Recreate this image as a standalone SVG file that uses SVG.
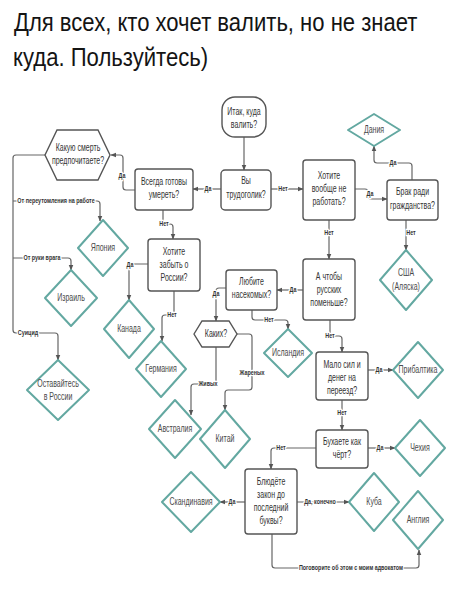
<svg xmlns="http://www.w3.org/2000/svg" width="452" height="600" viewBox="0 0 452 600">
<defs>
<style>
.title{font-family:"Liberation Sans",Arial,sans-serif;font-size:26.5px;fill:#141414}
.box{fill:#fff;stroke:#555;stroke-width:1.4}
.dia{fill:#fff;stroke:#63a8a1;stroke-width:2;stroke-linejoin:round}
.t{font-family:"Liberation Sans",Arial,sans-serif;font-size:10px;fill:#333;text-anchor:middle}
.td{font-family:"Liberation Sans",Arial,sans-serif;font-size:10px;fill:#4a4a4a;text-anchor:middle}
.c{fill:none;stroke:#666;stroke-width:1.2;stroke-linejoin:round}
.ca{marker-end:url(#ah)}
.l{font-family:"Liberation Sans",Arial,sans-serif;font-size:6.5px;font-weight:bold;fill:#333;text-anchor:middle;stroke:#fff;stroke-width:2.5;paint-order:stroke;dominant-baseline:central}
</style>
<marker id="ah" viewBox="0 0 10 10" refX="9" refY="5" markerWidth="6" markerHeight="6" markerUnits="userSpaceOnUse" orient="auto">
<path d="M0,1 L10,5 L0,9 z" fill="#555"/>
</marker>
</defs>
<rect width="452" height="600" fill="#fff"/>
<text class="title" transform="translate(14 31) scale(0.82 1)" x="0" y="0" textLength="492" lengthAdjust="spacingAndGlyphs">Для всех, кто хочет валить, но не знает</text>
<text class="title" transform="translate(13 66) scale(0.82 1)" x="0" y="0" textLength="238" lengthAdjust="spacingAndGlyphs">куда. Пользуйтесь)</text>

<g id="connectors">
<path class="c ca" d="M244,137 V170"/>
<path class="c ca" d="M221,189 H193"/>
<path class="c ca" d="M135,190 H126 Q123,190 123,187 V158 Q123,155 120,155 H111"/>
<path class="c ca" d="M45,155 H16 Q13,155 13,158 V330 Q13,333 16,333 H55 Q58,333 58,336 V360"/>
<path class="c ca" d="M13,201 H97 Q100,201 100,204 V221"/>
<path class="c ca" d="M13,258 H68 Q71,258 71,261 V270"/>
<path class="c ca" d="M163,210 V221 Q163,224 166,224 H170 Q173,224 173,227 V239"/>
<path class="c ca" d="M148,264 H132 Q129,264 129,267 V300"/>
<path class="c ca" d="M174,291 V312 Q174,315 171,315 H165 Q162,315 162,318 V341"/>
<path class="c ca" d="M271,189 H303"/>
<path class="c ca" d="M355,189 H365 Q368,189 368,192 V196 Q368,199 371,199 H387"/>
<path class="c ca" d="M412,180 V166 Q412,163 409,163 H377 Q374,163 374,160 V146"/>
<path class="c ca" d="M406,220 V250"/>
<path class="c ca" d="M329,220 V259"/>
<path class="c ca" d="M303,290 H277"/>
<path class="c ca" d="M252,310 V317 Q252,320 255,320 H285 Q288,320 288,323 V329"/>
<path class="c ca" d="M226,288 H219 Q216,288 216,291 V321"/>
<path class="c ca" d="M216,347 V381 Q216,384 213,384 H194 Q191,384 191,387 V415"/>
<path class="c ca" d="M237,334 H249 Q252,334 252,337 V387 Q252,390 249,390 H228 Q225,390 225,393 V410"/>
<path class="c ca" d="M330,320 V333 Q330,336 333,336 H339 Q342,336 342,339 V352"/>
<path class="c ca" d="M368,370 H393"/>
<path class="c ca" d="M342,400 V430"/>
<path class="c ca" d="M368,448 H395"/>
<path class="c ca" d="M316,448 H274 Q271,448 271,451 V469"/>
<path class="c ca" d="M245,502 H220"/>
<path class="c ca" d="M297,502 H349"/>
<path class="c ca" d="M272,534 V565 Q272,568 275,568 H416 Q419,568 419,565 V550"/>
<text class="l" transform="translate(208 189) scale(0.83 1)">Да</text>
<text class="l" transform="translate(122 176) scale(0.83 1)">Да</text>
<text class="l" transform="translate(56 201) scale(0.83 1)">От переутомления на работе</text>
<text class="l" transform="translate(42 258) scale(0.83 1)">От руки врага</text>
<text class="l" transform="translate(28 333) scale(0.83 1)">Суицид</text>
<text class="l" transform="translate(164 224) scale(0.83 1)">Нет</text>
<text class="l" transform="translate(130 265) scale(0.83 1)">Да</text>
<text class="l" transform="translate(172 315) scale(0.83 1)">Нет</text>
<text class="l" transform="translate(283 189) scale(0.83 1)">Нет</text>
<text class="l" transform="translate(370 194) scale(0.83 1)">Да</text>
<text class="l" transform="translate(393 163) scale(0.83 1)">Да</text>
<text class="l" transform="translate(411 233) scale(0.83 1)">Нет</text>
<text class="l" transform="translate(329 233) scale(0.83 1)">Нет</text>
<text class="l" transform="translate(293 290) scale(0.83 1)">Да</text>
<text class="l" transform="translate(269 320) scale(0.83 1)">Нет</text>
<text class="l" transform="translate(216 294) scale(0.83 1)">Да</text>
<text class="l" transform="translate(208 384) scale(0.83 1)">Живых</text>
<text class="l" transform="translate(252 373) scale(0.83 1)">Жареных</text>
<text class="l" transform="translate(330 336) scale(0.83 1)">Нет</text>
<text class="l" transform="translate(379 370) scale(0.83 1)">Да</text>
<text class="l" transform="translate(342 413) scale(0.83 1)">Нет</text>
<text class="l" transform="translate(380 448) scale(0.83 1)">Да</text>
<text class="l" transform="translate(281 448) scale(0.83 1)">Нет</text>
<text class="l" transform="translate(232 502) scale(0.83 1)">Да</text>
<text class="l" transform="translate(320 502) scale(0.83 1)">Да, конечно</text>
<text class="l" transform="translate(351 568) scale(0.83 1)">Поговорите об этом с моим адвокатом</text>
</g>

<g id="start">
<rect class="box" x="222" y="97" width="44" height="40" rx="13"/>
<text class="t" transform="translate(244 0) scale(0.7 1)"><tspan x="0" y="115.5">Итак, куда</tspan><tspan x="0" y="128.5">валить?</tspan></text>
</g>
<g id="workaholic">
<rect class="box" x="221" y="170" width="50" height="40" rx="4"/>
<text class="t" transform="translate(246 0) scale(0.7 1)"><tspan x="0" y="184">Вы</tspan><tspan x="0" y="198">трудоголик?</tspan></text>
</g>
<g id="ready">
<rect class="box" x="135" y="169" width="58" height="41" rx="3"/>
<text class="t" transform="translate(164 0) scale(0.7 1)"><tspan x="0" y="185.5">Всегда готовы</tspan><tspan x="0" y="198.5">умереть?</tspan></text>
</g>
<g id="death">
<polygon class="box" points="45,155 57,130 98,130 110,155 98,180 57,180"/>
<text class="t" transform="translate(78 0) scale(0.7 1)"><tspan x="0" y="151.5">Какую смерть</tspan><tspan x="0" y="164">предпочитаете?</tspan></text>
</g>
<g id="japan">
<polygon class="dia" points="103,220 128,248 103,276 78,248"/>
<text class="td" transform="translate(103 0) scale(0.7 1)" y="251.5">Япония</text>
</g>
<g id="israel">
<polygon class="dia" points="71,270 97,298 71,326 45,298"/>
<text class="td" transform="translate(71 0) scale(0.7 1)" y="301.5">Израиль</text>
</g>
<g id="stay">
<polygon class="dia" points="58,360 89,390 58,420 27,390"/>
<text class="td" transform="translate(58 0) scale(0.7 1)"><tspan x="0" y="387">Оставайтесь</tspan><tspan x="0" y="400.5">в России</tspan></text>
</g>
<g id="forget">
<rect class="box" x="148" y="239" width="52" height="52" rx="3"/>
<text class="t" transform="translate(174 0) scale(0.7 1)"><tspan x="0" y="255.5">Хотите</tspan><tspan x="0" y="268.5">забыть о</tspan><tspan x="0" y="281.5">России?</tspan></text>
</g>
<g id="canada">
<polygon class="dia" points="129,300 154,329 129,358 104,329"/>
<text class="td" transform="translate(129 0) scale(0.7 1)" y="332.5">Канада</text>
</g>
<g id="germany">
<polygon class="dia" points="161,341 186,369 161,397 136,369"/>
<text class="td" transform="translate(161 0) scale(0.7 1)" y="372.5">Германия</text>
</g>
<g id="nowork">
<rect class="box" x="303" y="160" width="52" height="60" rx="3"/>
<text class="t" transform="translate(329 0) scale(0.7 1)"><tspan x="0" y="179">Хотите</tspan><tspan x="0" y="192">вообще не</tspan><tspan x="0" y="205">работать?</tspan></text>
</g>
<g id="marriage">
<rect class="box" x="387" y="180" width="51" height="40" rx="3"/>
<text class="t" transform="translate(412.5 0) scale(0.7 1)"><tspan x="0" y="195">Брак ради</tspan><tspan x="0" y="209">гражданства?</tspan></text>
</g>
<g id="denmark">
<polygon class="dia" points="374,114 400,130 374,146 348,130"/>
<text class="td" transform="translate(374 0) scale(0.7 1)" y="133.5">Дания</text>
</g>
<g id="usa">
<polygon class="dia" points="406,250 432,280 406,310 380,280"/>
<text class="td" transform="translate(406 0) scale(0.7 1)"><tspan x="0" y="276.5">США</tspan><tspan x="0" y="290.5">(Аляска)</tspan></text>
</g>
<g id="fewer">
<rect class="box" x="303" y="259" width="52" height="61" rx="3"/>
<text class="t" transform="translate(329 0) scale(0.7 1)"><tspan x="0" y="280.5">А чтобы</tspan><tspan x="0" y="293.5">русских</tspan><tspan x="0" y="306.5">поменьше?</tspan></text>
</g>
<g id="insects">
<rect class="box" x="226" y="270" width="51" height="40" rx="3"/>
<text class="t" transform="translate(251.5 0) scale(0.7 1)"><tspan x="0" y="285.5">Любите</tspan><tspan x="0" y="298">насекомых?</tspan></text>
</g>
<g id="iceland">
<polygon class="dia" points="288,329 312,353 288,377 264,353"/>
<text class="td" transform="translate(288 0) scale(0.7 1)" y="356.5">Исландия</text>
</g>
<g id="which">
<polygon class="box" points="194,334 202,321 229,321 237,334 229,347 202,347"/>
<text class="t" transform="translate(216 0) scale(0.7 1)" y="337.5">Каких?</text>
</g>
<g id="australia">
<polygon class="dia" points="175,400 201,429 175,458 149,429"/>
<text class="td" transform="translate(175 0) scale(0.7 1)" y="432.5">Австралия</text>
</g>
<g id="china">
<polygon class="dia" points="225,410 250,439 225,468 200,439"/>
<text class="td" transform="translate(225 0) scale(0.7 1)" y="442.5">Китай</text>
</g>
<g id="money">
<rect class="box" x="316" y="352" width="52" height="48" rx="3"/>
<text class="t" transform="translate(342 0) scale(0.7 1)"><tspan x="0" y="368.5">Мало сил и</tspan><tspan x="0" y="381.5">денег на</tspan><tspan x="0" y="394.5">переезд?</tspan></text>
</g>
<g id="baltics">
<polygon class="dia" points="418,342 443,370 418,398 393,370"/>
<text class="td" transform="translate(418 0) scale(0.7 1)" y="373.5">Прибалтика</text>
</g>
<g id="drink">
<rect class="box" x="316" y="430" width="52" height="38" rx="3"/>
<text class="t" transform="translate(342 0) scale(0.7 1)"><tspan x="0" y="445">Бухаете как</tspan><tspan x="0" y="458">чёрт?</tspan></text>
</g>
<g id="czech">
<polygon class="dia" points="420,420 445,448 420,476 395,448"/>
<text class="td" transform="translate(420 0) scale(0.7 1)" y="451.5">Чехия</text>
</g>
<g id="law">
<rect class="box" x="245" y="469" width="52" height="65" rx="3"/>
<text class="t" transform="translate(271 0) scale(0.7 1)"><tspan x="0" y="485">Блюдёте</tspan><tspan x="0" y="498">закон до</tspan><tspan x="0" y="511">последний</tspan><tspan x="0" y="524">буквы?</tspan></text>
</g>
<g id="scandinavia">
<polygon class="dia" points="191,472 220,502 191,532 162,502"/>
<text class="td" transform="translate(191 0) scale(0.7 1)" y="505.5">Скандинавия</text>
</g>
<g id="cuba">
<polygon class="dia" points="374,473 399,502 374,531 349,502"/>
<text class="td" transform="translate(374 0) scale(0.7 1)" y="505">Куба</text>
</g>
<g id="england">
<polygon class="dia" points="418,491 443,520 418,549 393,520"/>
<text class="td" transform="translate(418 0) scale(0.7 1)" y="523">Англия</text>
</g>
</svg>
